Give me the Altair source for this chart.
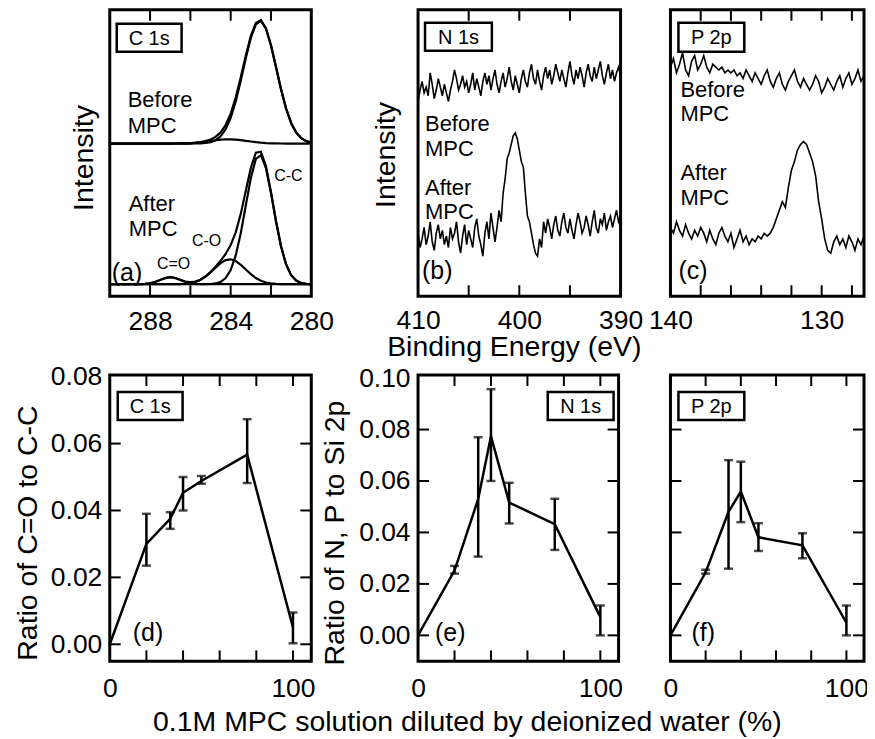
import altair as alt
import pandas as pd

FONT = "Liberation Sans"
TICK_FS = 26.5
TITLE_FS = 28.5
NOTE_FS = 22
LETTER_FS = 25
BOX_FS = 20

# ---------------------------------------------------------------- data
# (a) C 1s spectra and fit components, energy grid 280 -> 290 eV, step 0.25 eV
c1s_start, c1s_step = 280.0, 0.25
c1s_before_env = [53.64, 54.14, 55.18, 57.16, 60.49, 65.52, 72.22, 80.00, 87.66, 93.60,
                  96.43, 95.43, 90.91, 84.06, 76.43, 69.39, 63.77, 59.78, 57.20, 55.63,
                  54.70, 54.15, 53.82, 53.60, 53.46, 53.39, 53.34, 53.32, 53.31, 53.3,
                  53.3, 53.3, 53.3, 53.3, 53.3, 53.3, 53.3, 53.3, 53.3, 53.3, 53.3]
c1s_before_cc = [53.64, 54.14, 55.18, 57.16, 60.49, 65.51, 72.20, 79.95, 87.56, 93.42,
                 96.12, 94.94, 90.20, 83.10, 75.23, 68.00, 62.28, 58.30, 55.84, 54.47,
                 53.79, 53.49, 53.37, 53.32, 53.3, 53.3, 53.3, 53.3, 53.3, 53.3,
                 53.3, 53.3, 53.3, 53.3, 53.3, 53.3, 53.3, 53.3, 53.3, 53.3, 53.3]
c1s_before_co = [53.3, 53.3, 53.3, 53.3, 53.3, 53.31, 53.32, 53.35, 53.40, 53.48,
                 53.61, 53.79, 54.01, 54.26, 54.50, 54.69, 54.79, 54.78, 54.66, 54.46,
                 54.21, 53.96, 53.75, 53.58, 53.46, 53.39, 53.34, 53.32, 53.31, 53.3,
                 53.3, 53.3, 53.3, 53.3, 53.3, 53.3, 53.3, 53.3, 53.3, 53.3, 53.3]
c1s_after_env = [4.22, 4.31, 4.62, 5.44, 7.33, 11.08, 17.36, 26.18, 36.34, 45.34,
                 50.45, 50.09, 44.79, 36.81, 28.75, 22.32, 17.83, 14.75, 12.36, 10.27,
                 8.41, 6.87, 5.76, 5.10, 4.89, 5.13, 5.72, 6.35, 6.62, 6.33,
                 5.66, 4.97, 4.51, 4.29, 4.21, 4.18, 4.18, 4.18, 4.18, 4.18, 4.18]
c1s_after_cc = [4.22, 4.31, 4.62, 5.44, 7.33, 11.07, 17.32, 26.07, 36.06, 44.73,
                49.24, 47.92, 41.27, 31.66, 21.96, 14.23, 9.14, 6.32, 4.99, 4.45,
                4.26, 4.20, 4.18, 4.18, 4.18, 4.18, 4.18, 4.18, 4.18, 4.18,
                4.18, 4.18, 4.18, 4.18, 4.18, 4.18, 4.18, 4.18, 4.18, 4.18, 4.18]
c1s_after_co = [4.18, 4.18, 4.18, 4.18, 4.18, 4.19, 4.22, 4.29, 4.46, 4.79,
                5.39, 6.35, 7.70, 9.33, 10.97, 12.27, 12.87, 12.61, 11.55, 10.00,
                8.33, 6.85, 5.73, 4.99, 4.56, 4.34, 4.24, 4.20, 4.18, 4.18,
                4.18, 4.18, 4.18, 4.18, 4.18, 4.18, 4.18, 4.18, 4.18, 4.18, 4.18]
c1s_after_ceo = [4.18, 4.18, 4.18, 4.18, 4.18, 4.18, 4.18, 4.18, 4.18, 4.18,
                 4.18, 4.18, 4.18, 4.18, 4.18, 4.18, 4.18, 4.18, 4.18, 4.18,
                 4.18, 4.18, 4.21, 4.29, 4.51, 4.97, 5.66, 6.33, 6.62, 6.33,
                 5.66, 4.97, 4.51, 4.29, 4.21, 4.18, 4.18, 4.18, 4.18, 4.18, 4.18]

# (b) N 1s, energy grid 410 -> 390 eV, step 0.2 eV
n1s_start, n1s_step = 410.0, -0.2
n1s_before = [68, 72, 75, 71, 73, 70, 78, 74, 69, 72,
              76, 73, 70, 74, 71, 68, 72, 75, 79, 76,
              72, 74, 77, 73, 75, 71, 74, 78, 72, 76,
              73, 70, 75, 78, 74, 77, 72, 76, 79, 74,
              71, 75, 78, 73, 76, 80, 75, 72, 77, 74,
              71, 76, 79, 75, 73, 78, 81, 76, 74, 79,
              75, 72, 77, 80, 76, 79, 74, 77, 81, 78,
              75, 79, 76, 73, 78, 82, 77, 74, 79, 76,
              80, 77, 73, 78, 81, 77, 75, 80, 76, 79,
              82, 77, 74, 78, 81, 76, 79, 75, 78, 80, 77]
n1s_after = [22, 17, 20, 24, 18, 21, 26, 19, 16, 22,
             25, 20, 23, 18, 21, 17, 24, 20, 22, 26,
             19, 15, 21, 25, 18, 23, 20, 17, 24, 27,
             21, 18, 14, 22, 26, 20, 29, 24, 19,
             24, 30, 26, 36, 41, 48, 50, 53, 56, 57,
             55, 51, 47, 45, 36, 28, 26, 22, 18, 15,
             14, 20, 17,
             26, 22, 27, 24, 20, 25, 28, 23, 21, 26,
             29, 24, 22, 27, 23, 20, 25, 29, 26, 22,
             24, 28, 25, 21, 26, 30, 24, 22, 27, 25,
             29, 23, 26, 28, 24, 27, 30, 26, 28]

# (c) P 2p, energy grid 140 -> 127.2 eV, step 0.2 eV
p2p_start, p2p_step = 140.0, -0.2
p2p_before = [80, 83, 78, 81, 85, 79, 77, 82, 84, 79,
              81, 84, 80, 78, 81, 80, 79, 80, 78, 79,
              78, 79, 77, 78, 76, 79, 77, 75, 78, 76,
              74, 77, 79, 75, 73, 76, 78, 74, 72, 75,
              77, 79, 75, 73, 76, 74, 72, 74, 77, 75,
              71, 73, 76, 74, 72, 75, 77, 73, 76, 78,
              74, 76, 79, 75, 77]
p2p_after = [24, 22, 26, 23, 21, 25, 22, 20, 23, 21,
             24, 22, 19, 23, 20, 18, 22, 24, 21, 19,
             22, 17, 20, 23, 19, 21, 18, 20, 19, 21,
             20, 22, 21,
             22, 24, 27, 30, 33, 31, 38, 44, 47, 51, 53, 54,
             53, 50, 47, 42, 33, 27, 20, 16, 15, 19,
             21, 18, 20, 17, 21, 19, 16, 20, 18, 21]

# (d)-(f) ratios versus dilution of 0.1M MPC solution (%)
conc = [0, 20, 33, 40, 50, 75, 100]
co_ratio = [0.0, 0.030, 0.0375, 0.0453, 0.0488, 0.0567, 0.005]
co_lo = [0.0235, 0.0345, 0.0400, 0.0480, 0.0482, 0.0003]
co_hi = [0.0390, 0.0395, 0.0500, 0.0503, 0.0673, 0.0095]
n_ratio = [0.0, 0.0252, 0.053, 0.0774, 0.0516, 0.0432, 0.0071]
n_lo = [0.0240, 0.0306, 0.0600, 0.0435, 0.0332, 0.0000]
n_hi = [0.0270, 0.0770, 0.0957, 0.0593, 0.0531, 0.0116]
p_ratio = [0.0, 0.0245, 0.048, 0.0559, 0.0381, 0.0350, 0.0049]
p_lo = [0.0240, 0.0259, 0.0440, 0.0328, 0.0300, 0.0000]
p_hi = [0.0255, 0.0681, 0.0675, 0.0436, 0.0397, 0.0116]


# ---------------------------------------------------------------- helpers
ONE = pd.DataFrame({"k": [0]})
TL = 11      # inward tick length (px)
TW = 2.0     # tick stroke width


def tick_rows(xticks, yticks, xdom, ydom, W, H, xn, yn):
    """Short inward frame-tick segments, expressed in the panel's data units."""
    x0, x1 = xdom
    y0, y1 = ydom
    dy = (y1 - y0) * TL / H
    dx = (x1 - x0) * TL / W
    rows = []
    for t in xticks:
        for k, (ya_, yb_) in enumerate([(y1, y1 - dy), (y0, y0 + dy)]):
            seg = f"tx{t}_{k}"
            rows += [{xn: t, yn: ya_, "seg": seg, "w": TW}, {xn: t, yn: yb_, "seg": seg, "w": TW}]
    for t in yticks:
        for k, (xa_, xb_) in enumerate([(x0, x0 + dx), (x1, x1 - dx)]):
            seg = f"ty{t}_{k}"
            rows += [{xn: xa_, yn: t, "seg": seg, "w": TW}, {xn: xb_, yn: t, "seg": seg, "w": TW}]
    return rows


def spectra_df(start, step, curves, width, xticks, xdom, ydom, W):
    rows = []
    for name, vals in curves.items():
        for i, v in enumerate(vals):
            rows.append({"E": round(start + step * i, 3), "I": v, "seg": name, "w": width})
    rows += tick_rows(xticks, [], xdom, ydom, W, H, "E", "I")
    return pd.DataFrame(rows)


def txt(s, x, y, size, align="left"):
    return alt.Chart(ONE).mark_text(font=FONT, fontSize=size, align=align,
                                    baseline="middle", color="black").encode(
        x=alt.value(x), y=alt.value(y), text=alt.value(s))


def box(s, x0, y0, x1, y1):
    r = alt.Chart(ONE).mark_rect(fill="white", stroke="black", strokeWidth=2.5).encode(
        x=alt.value(x0), x2=alt.value(x1), y=alt.value(y0), y2=alt.value(y1))
    return [r, txt(s, (x0 + x1) / 2, (y0 + y1) / 2 + 1, BOX_FS, align="center")]


SW = alt.StrokeWidth("w:Q", scale=None, legend=None)
H = 287

# ---------------------------------------------------------------- panel (a)
Wa = 202
xa_dom, ya_dom = [280, 290], [0, 100]
xa = alt.Scale(domain=xa_dom, reverse=True, nice=False, zero=False)
ya = alt.Scale(domain=ya_dom, nice=False, zero=False)
df_a = spectra_df(c1s_start, c1s_step, {
    "b_env": c1s_before_env, "b_cc": c1s_before_cc, "b_co": c1s_before_co,
    "a_env": c1s_after_env, "a_cc": c1s_after_cc, "a_co": c1s_after_co, "a_ceo": c1s_after_ceo},
    2.2, [282, 284, 286, 288], xa_dom, ya_dom, Wa)
line_a = alt.Chart(df_a).mark_line(color="black", clip=True).encode(
    x=alt.X("E:Q", scale=xa, axis=alt.Axis(values=[288, 284, 280], title=None, labelPadding=12)),
    y=alt.Y("I:Q", scale=ya, axis=alt.Axis(title="Intensity", labels=False, titleX=-17, titleY=148,
                                           titleAlign="center", titleBaseline="alphabetic")),
    detail="seg:N", strokeWidth=SW)
pa = alt.layer(
    line_a,
    *box("C 1s", 7, 14, 72, 42),
    txt("Before", 18, 90, NOTE_FS), txt("MPC", 18, 116, NOTE_FS),
    txt("After", 19, 195, NOTE_FS), txt("MPC", 19, 220, NOTE_FS),
    txt("(a)", 2, 264, LETTER_FS),
    txt("C=O", 64, 255, 16, align="center"),
    txt("C-O", 97, 232, 16, align="center"),
    txt("C-C", 179, 167, 16, align="center"),
).properties(width=Wa, height=H)

# ---------------------------------------------------------------- panel (b)
Wb = 203
xb_dom, yb_dom = [390, 410], [0, 100]
xb = alt.Scale(domain=xb_dom, reverse=True, nice=False, zero=False)
yb = alt.Scale(domain=yb_dom, nice=False, zero=False)
df_b = spectra_df(n1s_start, n1s_step, {"before": n1s_before, "after": n1s_after},
                  1.6, [395, 400, 405], xb_dom, yb_dom, Wb)
line_b = alt.Chart(df_b).mark_line(color="black", clip=True).encode(
    x=alt.X("E:Q", scale=xb, axis=alt.Axis(values=[410, 400, 390], title="Binding Energy (eV)",
                                           labelPadding=11, titleX=96, titleY=59,
                                           titleBaseline="alphabetic", titleAlign="center")),
    y=alt.Y("I:Q", scale=yb, axis=alt.Axis(title="Intensity", labels=False, titleX=-24, titleY=145,
                                           titleAlign="center", titleBaseline="alphabetic")),
    detail="seg:N", strokeWidth=SW)
pb = alt.layer(
    line_b,
    *box("N 1s", 7, 13, 74, 41),
    txt("Before", 7, 114, NOTE_FS), txt("MPC", 7, 139, NOTE_FS),
    txt("After", 7, 179, NOTE_FS), txt("MPC", 7, 203, NOTE_FS),
    txt("(b)", 4, 262, LETTER_FS),
).properties(width=Wb, height=H)

# ---------------------------------------------------------------- panel (c)
Wc = 194
xc_dom, yc_dom = [127.2, 140], [0, 100]
xc = alt.Scale(domain=xc_dom, reverse=True, nice=False, zero=False)
yc = alt.Scale(domain=yc_dom, nice=False, zero=False)
df_c = spectra_df(p2p_start, p2p_step, {"before": p2p_before, "after": p2p_after},
                  1.6, [128, 130, 132, 134, 136, 138], xc_dom, yc_dom, Wc)
line_c = alt.Chart(df_c).mark_line(color="black", clip=True).encode(
    x=alt.X("E:Q", scale=xc, axis=alt.Axis(values=[140, 130], title=None, labelPadding=11)),
    y=alt.Y("I:Q", scale=yc, axis=None),
    detail="seg:N", strokeWidth=SW)
pc = alt.layer(
    line_c,
    *box("P 2p", 8, 13, 74, 42),
    txt("Before", 10, 80, NOTE_FS), txt("MPC", 10, 104, NOTE_FS),
    txt("After", 10, 164, NOTE_FS), txt("MPC", 10, 189, NOTE_FS),
    txt("(c)", 8, 262, LETTER_FS),
).properties(width=Wc, height=H)


# ---------------------------------------------------------------- ratio panels
def ratio_panel(W, vals, lo, hi, ydom, yticks, ylabels, ytitle, ytitle_x, xtitle,
                boxspec, letter, letter_x):
    xdom = [0, 110]
    xs = alt.Scale(domain=xdom, nice=False, zero=False)
    ys = alt.Scale(domain=ydom, nice=False, zero=False)
    xaxis_kw = dict(values=[0, 100], format="d", labelPadding=14)
    if xtitle:
        xaxis_kw.update(title=xtitle, titleX=49, titleY=69, titleBaseline="alphabetic",
                        titleAlign="center")
    else:
        xaxis_kw.update(title=None)
    xax = alt.Axis(**xaxis_kw)
    if ylabels:
        yax = alt.Axis(values=ylabels, format=".2f", labelPadding=8, title=ytitle,
                       titleX=ytitle_x, titleY=158, titleAlign="center",
                       titleBaseline="alphabetic")
    else:
        yax = alt.Axis(labels=False, title=None)
    rows = [{"c": c, "v": v, "seg": "data", "w": 2.5} for c, v in zip(conc, vals)]
    rows += tick_rows([20, 40, 60, 80, 100], yticks, xdom, ydom, W, H, "c", "v")
    dfl = pd.DataFrame(rows)
    dfe = pd.DataFrame({"c": conc[1:], "lo": lo, "hi": hi})
    line = alt.Chart(dfl).mark_line(color="black").encode(
        x=alt.X("c:Q", scale=xs, axis=xax),
        y=alt.Y("v:Q", scale=ys, axis=yax),
        detail="seg:N", strokeWidth=SW)
    bars = alt.Chart(dfe).mark_rule(color="black", strokeWidth=2.5).encode(
        x=alt.X("c:Q", scale=xs, axis=xax), y=alt.Y("lo:Q", scale=ys, axis=yax), y2="hi:Q")
    cap_lo = alt.Chart(dfe).mark_tick(color="black", orient="horizontal", size=9, thickness=2.5).encode(
        x=alt.X("c:Q", scale=xs, axis=xax), y=alt.Y("lo:Q", scale=ys, axis=yax))
    cap_hi = alt.Chart(dfe).mark_tick(color="black", orient="horizontal", size=9, thickness=2.5).encode(
        x=alt.X("c:Q", scale=xs, axis=xax), y=alt.Y("hi:Q", scale=ys, axis=yax))
    return alt.layer(
        line, bars, cap_lo, cap_hi,
        *box(*boxspec),
        txt(letter, letter_x, 259, LETTER_FS),
    ).properties(width=W, height=H)


pd_ = ratio_panel(202, co_ratio, co_lo, co_hi, [-0.0051, 0.0805], [0, 0.02, 0.04, 0.06],
                  [0, 0.02, 0.04, 0.06, 0.08], "Ratio of C=O to C-C", -73, None,
                  ("C 1s", 8, 17, 73, 45), "(d)", 23)
pe = ratio_panel(201, n_ratio, n_lo, n_hi, [-0.0101, 0.1012], [0, 0.02, 0.04, 0.06, 0.08],
                 [0, 0.02, 0.04, 0.06, 0.08, 0.10], "Ratio of N, P to Si 2p", -75,
                 "0.1M MPC solution diluted by deionized water (%)",
                 ("N 1s", 130, 17, 196, 45), "(e)", 17)
pf = ratio_panel(194, p_ratio, p_lo, p_hi, [-0.0101, 0.1012], [0, 0.02, 0.04, 0.06, 0.08],
                 None, None, 0, None, ("P 2p", 8, 17, 74, 45), "(f)", 21)

spacer = alt.Chart(ONE).mark_point(opacity=0).encode(
    x=alt.X("k:Q", axis=None), y=alt.Y("k:Q", axis=None)
).properties(width=7, height=H, view=alt.ViewBackground(stroke="transparent"))

chart = alt.concat(
    pa, spacer, pb, pc,
    pd_, spacer, pe, pf,
    columns=4, spacing={"row": 79, "column": 50}, bounds="flush", align="each",
).properties(
    padding={"left": 4, "top": -1, "right": -3, "bottom": 6}
).configure_view(
    stroke="black", strokeWidth=3
).configure_axis(
    labelFont=FONT, titleFont=FONT, labelFontSize=TICK_FS, titleFontSize=TITLE_FS,
    labelColor="black", titleColor="black", titleFontWeight="normal",
    grid=False, domain=False, ticks=False, labelFlush=False, labelOverlap=False
)

chart.save("out.html", embed_options={"renderer": "svg", "actions": False})
